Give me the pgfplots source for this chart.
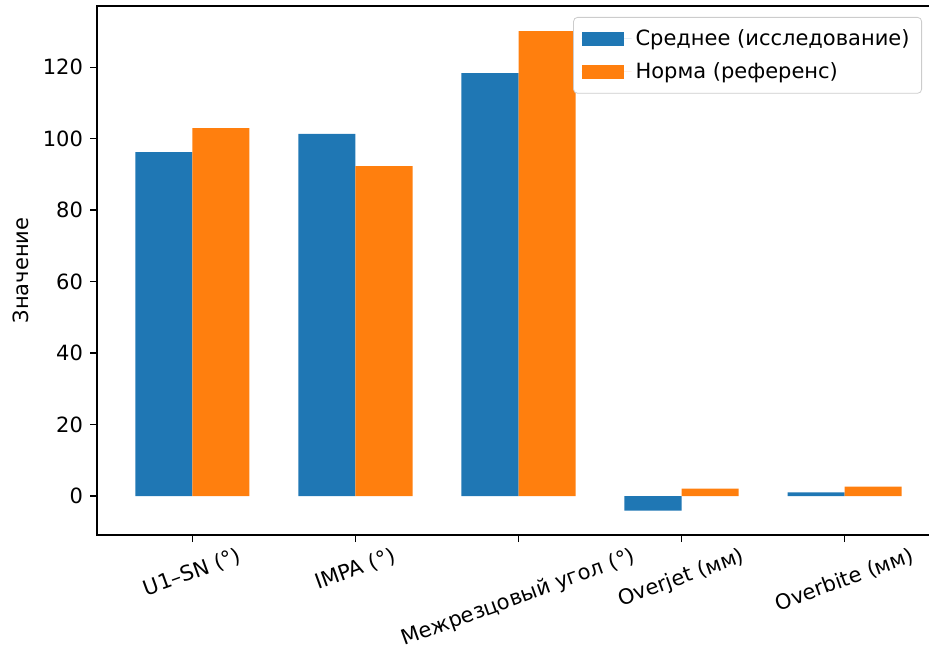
\documentclass[border=0pt]{standalone}
\usepackage{fontspec}
\setmainfont{DejaVu Sans}
\usepackage{pgfplots}
\pgfplotsset{compat=1.18}
\definecolor{mblue}{HTML}{1F77B4}
\definecolor{morange}{HTML}{FF7F0E}
\begin{document}
\begin{tikzpicture}
\begin{axis}[
  scale only axis,
  width=421.5pt, height=264.5pt,
  at={(0,0)}, anchor=south west,
  xmin=-0.585, xmax=4.585,
  ymin=-10.9, ymax=137.1,
  ytick={0,20,40,60,80,100,120},
  xtick={0,1,2,3,4},
  xticklabels={\rotatebox{20}{U1–SN (°)},\rotatebox{20}{IMPA (°)},\rotatebox{20}{Межрезцовый угол (°)},\rotatebox{20}{Overjet (мм)},\rotatebox{20}{Overbite (мм)}},
  xticklabel style={anchor=north, font=\fontsize{10.5}{12}\selectfont, inner sep=2pt},
  yticklabel style={font=\fontsize{10.5}{12}\selectfont},
  /pgf/number format/assume math mode=true,
  tick align=outside,
  major tick length=3.5pt,
  tick style={black, line width=0.6pt},
  axis line style={black, line width=0.6pt},
  xtick pos=bottom, ytick pos=left,
  ylabel={Значение},
  ylabel style={font=\fontsize{10.5}{12}\selectfont},
  ybar, bar width=0.35, bar shift=0pt,
  legend style={at={(rel axis cs:1,1)}, xshift=-9pt, yshift=-5.5pt, anchor=north east,
    draw=black!20, rounded corners=2pt, font=\fontsize{10.5}{12}\selectfont,
    row sep=3pt, inner xsep=4pt, inner ysep=4pt},
  legend cell align=left,
  legend image code/.code={\path[#1, sharp corners] (0pt,-3.5pt) rectangle (21pt,3.5pt); \path (0pt,0pt) -- (25pt,0pt);},
]
\addplot[fill=mblue, draw=none] coordinates {(-0.175,96.2) (0.825,101.3) (1.825,118.3) (2.825,-4.1) (3.825,1.0)};
\addlegendentry{Среднее (исследование)}
\addplot[fill=morange, draw=none] coordinates {(0.175,102.9) (1.175,92.3) (2.175,130.1) (3.175,2.1) (4.175,2.6)};
\addlegendentry{Норма (референс)}
\end{axis}
\pgfresetboundingbox
\useasboundingbox (-48.5pt,-58.5pt) rectangle (416pt,267.5pt);
\end{tikzpicture}
\end{document}
